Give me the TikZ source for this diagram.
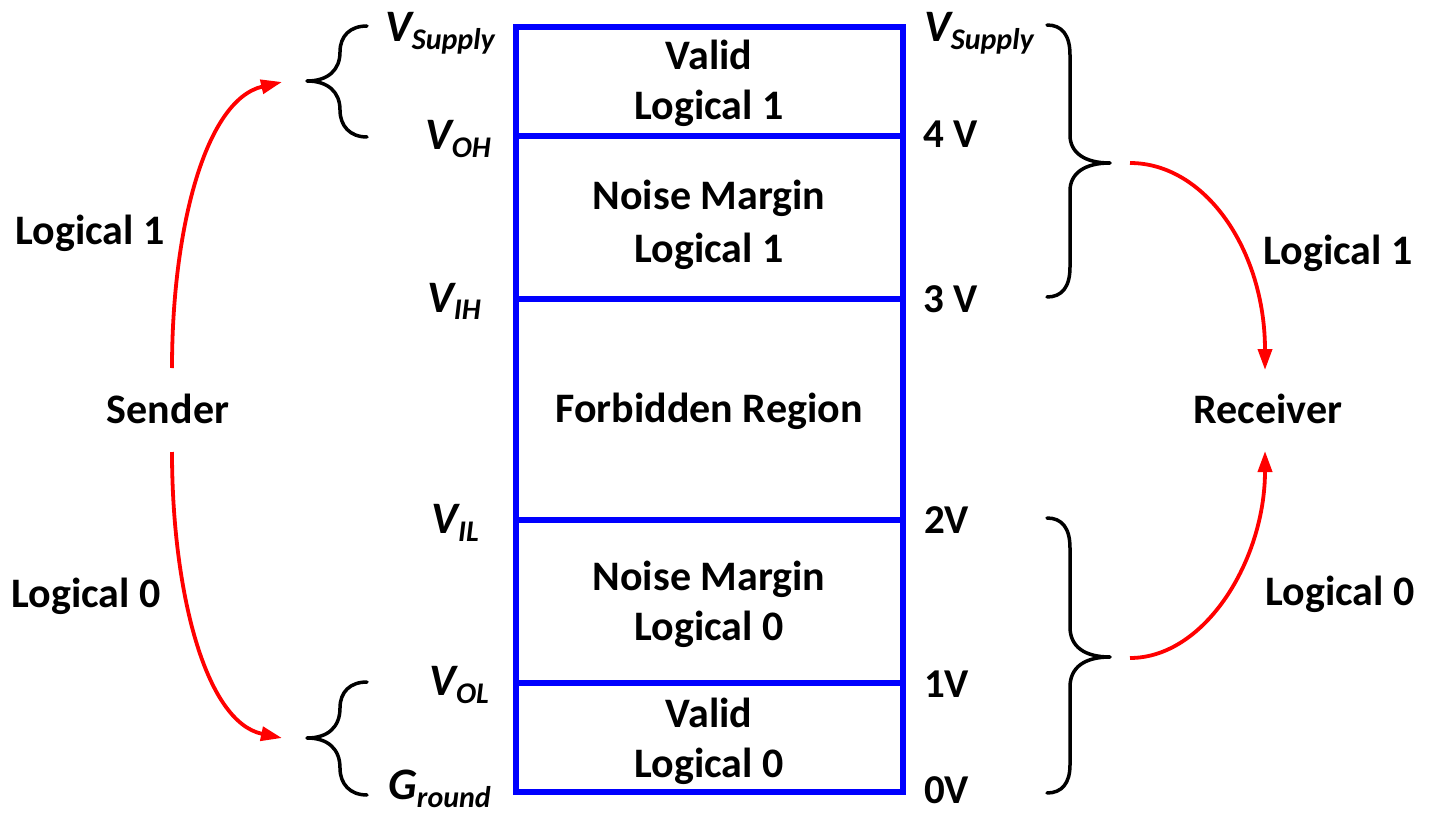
\documentclass[tikz,border=0pt]{standalone}
\usepackage{fontspec}
\setmainfont{Carlito}
\usetikzlibrary{arrows.meta}
% voltage symbol with a lowered subscript, e.g. V_Supply
\newcommand\voltsym[2]{{\fontsize{45}{45}\selectfont\bfseries\itshape #1}\raisebox{-8pt}{\fontsize{30}{30}\selectfont\bfseries\itshape #2}}
\begin{document}
\begin{tikzpicture}[x=1pt,y=-1pt,
  txt/.style={font=\fontsize{42}{50}\selectfont\bfseries, inner sep=0pt, anchor=base},
  lvlL/.style={inner sep=0pt, anchor=base east},
  lvlR/.style={font=\fontsize{41}{48}\selectfont\bfseries, inner sep=0pt, anchor=base west},
  bandline/.style={draw={rgb,255:red,0;green,0;blue,255}, line width=6pt},
  bracepath/.style={draw=black, line width=3.5pt, line cap=round, line join=round},
  flow/.style={draw={rgb,255:red,255;green,0;blue,0}, line width=3.8pt, -{Triangle[length=21pt,width=14pt]}}]

\useasboundingbox (0,0) rectangle (1430,813);

% voltage column
\draw[bandline] (516,27) rectangle (903,792);
\draw[bandline] (516,136) -- (903,136);
\draw[bandline] (516,299) -- (903,299);
\draw[bandline] (516,520) -- (903,520);
\draw[bandline] (516,683) -- (903,683);

% region texts
\node[txt] (v1a) at (709,70) {Valid};
\node[txt] (v1b) at (709,120) {Logical 1};
\node[txt] (n1a) at (709,210) {Noise Margin};
\node[txt] (n1b) at (709,262) {Logical 1};
\node[txt] (fb) at (709,422) {Forbidden Region};
\node[txt] (n0a) at (709,590) {Noise Margin};
\node[txt] (n0b) at (709,640) {Logical 0};
\node[txt] (v0a) at (709,727) {Valid};
\node[txt] (v0b) at (709,777) {Logical 0};

% threshold names (left)
\node[lvlL] (vsupL) at (495,42) {\voltsym{V}{Supply}};
\node[lvlL] (voh) at (491,150) {\voltsym{V}{OH}};
\node[lvlL] (vih) at (481,312) {\voltsym{V}{IH}};
\node[lvlL] (vil) at (479,533) {\voltsym{V}{IL}};
\node[lvlL] (vol) at (489,695) {\voltsym{V}{OL}};
\node[lvlL] (gnd) at (491,799) {\voltsym{G}{round}};

% threshold values (right)
\node[lvlR] (vsupR) at (924,42) {\voltsym{V}{Supply}};
\node[lvlR] (v4) at (923,148) {4 V};
\node[lvlR] (v3) at (923,312) {3 V};
\node[lvlR] (v2) at (924,533) {2V};
\node[lvlR] (v1) at (924,697) {1V};
\node[lvlR] (v0) at (924,803) {0V};

% braces
\draw[bracepath] (367,26) .. controls (350,26) and (340,36) .. (340,52)
  .. controls (340,70) and (328,81) .. (307,81)
  .. controls (328,81) and (340,92) .. (340,110)
  .. controls (340,126) and (350,137) .. (367,137);
\draw[bracepath] (367,682) .. controls (350,682) and (340,692) .. (340,708)
  .. controls (340,727) and (328,738) .. (307,738)
  .. controls (328,738) and (340,749) .. (340,768)
  .. controls (340,784) and (350,795) .. (367,795);
\draw[bracepath] (1047,25) .. controls (1062,25) and (1070,35) .. (1070,55) -- (1070,135)
  .. controls (1070,153) and (1085,163) .. (1110,163)
  .. controls (1085,163) and (1070,173) .. (1070,191) -- (1070,267)
  .. controls (1070,287) and (1062,297) .. (1047,297);
\draw[bracepath] (1047,518) .. controls (1062,518) and (1070,528) .. (1070,548) -- (1070,627)
  .. controls (1070,647) and (1085,657) .. (1110,657)
  .. controls (1085,657) and (1070,667) .. (1070,687) -- (1070,765)
  .. controls (1070,783) and (1062,793) .. (1047,793);

% sender / receiver
\node[txt] (sender) at (168,423) {Sender};
\node[txt] (receiver) at (1268,423) {Receiver};
\node[txt] (sl1) at (90,245) {Logical 1};
\node[txt] (sl0) at (86,607) {Logical 0};
\node[txt] (rl1) at (1338,265) {Logical 1};
\node[txt] (rl0) at (1340,605) {Logical 0};

\coordinate (sendUp) at (172,368);
\coordinate (sendDown) at (172,452);
\coordinate (hiIn) at (282,82);
\coordinate (loIn) at (282,738);
\coordinate (hiOut) at (1130,163);
\coordinate (loOut) at (1130,658);
\coordinate (recvTop) at (1265,370);
\coordinate (recvBot) at (1265,451);

\draw[flow] (sendUp) .. controls (172,230) and (205,100) .. (hiIn);
\draw[flow] (sendDown) .. controls (172,590) and (205,722) .. (loIn);
\draw[flow] (hiOut) .. controls (1205,163) and (1265,250) .. (recvTop);
\draw[flow] (loOut) .. controls (1205,658) and (1265,560) .. (recvBot);
\end{tikzpicture}
\end{document}
